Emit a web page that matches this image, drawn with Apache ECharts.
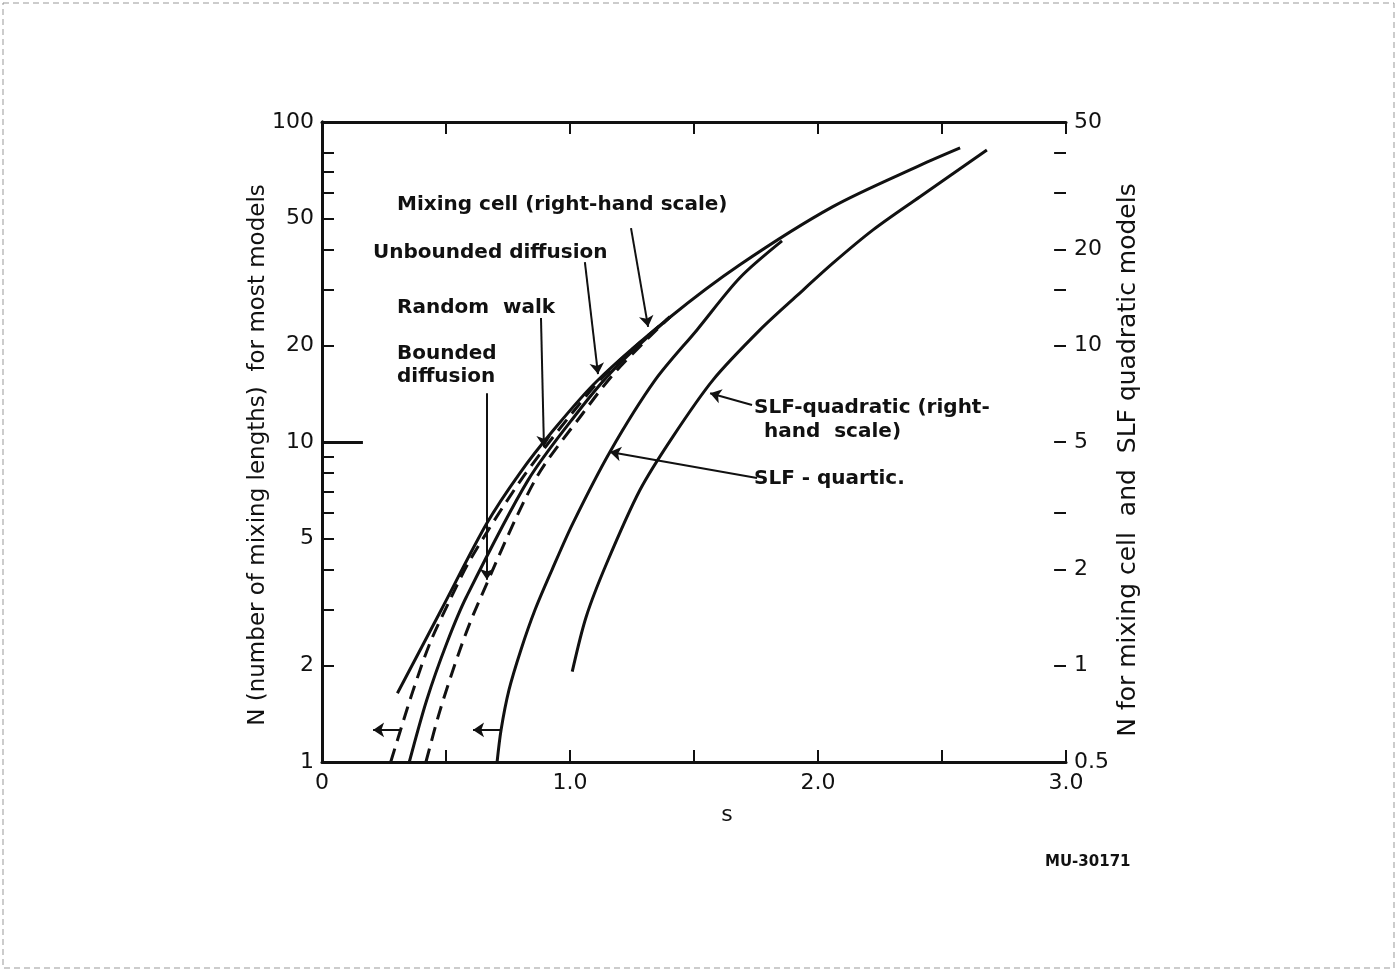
<!DOCTYPE html>
<html>
<head>
<meta charset="UTF-8">
<title>N vs s</title>
<script src="https://cdn.jsdelivr.net/npm/echarts@6/dist/echarts.min.js"></script>
<style>
  html, body { margin: 0; padding: 0; background: #fff; }
  #chart { width: 1398px; height: 972px; }
</style>
</head>
<body>
<div id="chart"></div>
<script>
// s values and N values
// left-hand scale curves
var unboundedS = [0.277, 0.321, 0.368, 0.435, 0.516, 0.597, 0.802, 1.008, 1.160, 1.403];
var unboundedN = [1.0, 1.29, 1.68, 2.35, 3.21, 4.28, 7.6, 12.3, 16.8, 24.6];

var randomWalkS = [0.352, 0.422, 0.503, 0.583, 0.831, 1.028, 1.175, 1.403];
var randomWalkN = [1.0, 1.56, 2.35, 3.29, 7.6, 12.3, 16.8, 24.6];

var boundedS = [0.419, 0.476, 0.556, 0.624, 0.859, 1.052, 1.190, 1.403];
var boundedN = [1.0, 1.45, 2.24, 3.06, 7.6, 12.3, 16.8, 24.6];

var quarticS = [0.706, 0.722, 0.754, 0.802, 0.859, 0.927, 1.012, 1.161, 1.343, 1.512, 1.685, 1.855];
var quarticN = [1.0, 1.26, 1.68, 2.24, 2.99, 3.98, 5.58, 9.31, 15.6, 22.4, 32.6, 42.5];

// right-hand scale curves
var mixingS = [0.304, 0.480, 0.664, 0.798, 0.931, 1.108, 1.403, 1.685, 2.060, 2.411, 2.573];
var mixingN = [0.82, 1.49, 2.78, 4.0, 5.42, 7.74, 12.27, 17.9, 27.2, 36.6, 41.5];

var quadraticS = [1.009, 1.065, 1.148, 1.282, 1.415, 1.577, 1.766, 1.914, 2.060, 2.222, 2.411, 2.681];
var quadraticN = [0.958, 1.42, 2.09, 3.54, 5.2, 7.82, 11.2, 14.3, 18.1, 23.0, 29.2, 40.9];

// ticks
var leftTicks = [1, 2, 3, 4, 5, 6, 7, 8, 9, 10, 20, 30, 40, 50, 60, 70, 80, 100];
var leftLabels = [1, 2, 5, 10, 20, 50, 100];
var rightTicks = [0.5, 1, 2, 3, 5, 10, 15, 20, 30, 40, 50];
var rightLabels = [0.5, 1, 2, 5, 10, 20, 50];
var xLabels = {0: '0', 1: '1.0', 2: '2.0', 3: '3.0'};

function pairs(xs, ys) {
    var out = [];
    for (var i = 0; i < xs.length; i++) out.push([xs[i], ys[i]]);
    return out;
}

var FONT = 'DejaVu Sans';
var INK = '#111';
var NOTE = 'bold 20px ' + FONT;

var lineStyleSolid = {color: INK, width: 3};
var lineStyleDash = {color: INK, width: 3, type: [14, 8]};

// annotation arrows, in data units of the axis the series uses
var arrowStyle = {color: INK, width: 2, type: 'solid'};
function arrow(x0, y0, x1, y1) {
    return [{coord: [x0, y0]}, {coord: [x1, y1]}];
}
function note(x, y, text) {
    return {type: 'text', x: x, y: y, style: {text: text, font: NOTE, fill: INK, verticalAlign: 'middle'}};
}

// right axis ticks: customValues ticks land on the left axis in this build,
// so they are drawn as short inward segments from s = 3.0
var rightTickMarks = rightTicks.map(function (v) { return arrow(3, v, 2.952, v); });

var chart = echarts.init(document.getElementById('chart'));
var option = {
    backgroundColor: '#fff',
    animation: false,
    grid: {left: 322, right: 332, top: 122, bottom: 210},
    xAxis: [{
        type: 'value', min: 0, max: 3, interval: 0.5,
        name: 's', nameLocation: 'middle', nameGap: 42,
        nameTextStyle: {fontFamily: FONT, fontSize: 22, color: INK, padding: [0, 0, 0, 66]},
        axisLine: {lineStyle: {color: INK, width: 3}},
        axisTick: {inside: true, length: 12, lineStyle: {color: INK, width: 2}},
        axisLabel: {
            fontFamily: FONT, fontSize: 22, color: INK, margin: 10,
            formatter: function (v) { return xLabels[v] !== undefined ? xLabels[v] : ''; }
        },
        splitLine: {show: false}
    }, {
        type: 'value', min: 0, max: 3, interval: 0.5, position: 'top',
        axisLine: {lineStyle: {color: INK, width: 3}},
        axisTick: {inside: true, length: 12, lineStyle: {color: INK, width: 2}},
        axisLabel: {show: false},
        splitLine: {show: false}
    }],
    yAxis: [{
        type: 'log', min: 1, max: 100, position: 'left',
        name: 'N (number of mixing lengths)  for most models',
        nameLocation: 'middle', nameGap: 52, nameRotate: 90, nameMoveOverlap: false,
        nameTextStyle: {fontFamily: FONT, fontSize: 23, color: INK, padding: [0, 26, 0, 0]},
        axisLine: {lineStyle: {color: INK, width: 3}},
        axisTick: {inside: true, length: 12, customValues: leftTicks, lineStyle: {color: INK, width: 2}},
        axisLabel: {fontFamily: FONT, fontSize: 22, color: INK, margin: 8, customValues: leftLabels},
        splitLine: {show: false}
    }, {
        type: 'log', min: 0.5, max: 50, position: 'right',
        name: 'N for mixing cell  and  SLF quadratic models',
        nameLocation: 'middle', nameGap: 50, nameRotate: 90, nameMoveOverlap: false,
        nameTextStyle: {fontFamily: FONT, fontSize: 25, color: INK, padding: [0, 36, 0, 0]},
        axisLine: {lineStyle: {color: INK, width: 3}},
        axisTick: {show: false},
        axisLabel: {fontFamily: FONT, fontSize: 22, color: INK, margin: 8, customValues: rightLabels},
        splitLine: {show: false}
    }],
    series: [{
        name: 'Mixing cell', type: 'line', yAxisIndex: 1, smooth: 0.3, showSymbol: false,
        lineStyle: lineStyleSolid, data: pairs(mixingS, mixingN),
        markLine: {
            silent: true, symbol: 'none', lineStyle: {color: INK, width: 2, type: 'solid'},
            label: {show: false}, data: rightTickMarks
        }
    }, {
        name: 'Unbounded diffusion', type: 'line', yAxisIndex: 0, smooth: 0.3, showSymbol: false,
        lineStyle: lineStyleDash, data: pairs(unboundedS, unboundedN)
    }, {
        name: 'Random walk', type: 'line', yAxisIndex: 0, smooth: 0.3, showSymbol: false,
        lineStyle: lineStyleSolid, data: pairs(randomWalkS, randomWalkN),
        markLine: {
            silent: true, symbol: ['none', 'arrow'], symbolSize: 11,
            lineStyle: arrowStyle, label: {show: false},
            data: [
                arrow(1.246, 46.6, 1.315, 22.9),   // mixing cell
                arrow(1.060, 36.5, 1.113, 16.3),   // unbounded diffusion
                arrow(0.883, 24.4, 0.895, 9.65),   // random walk
                arrow(0.665, 14.2, 0.665, 3.71),   // bounded diffusion
                arrow(1.734, 13.05, 1.565, 14.2),  // SLF-quadratic
                arrow(1.754, 7.72, 1.161, 9.3),    // SLF-quartic
                arrow(0.315, 1.26, 0.206, 1.26),   // left-hand scale marks
                arrow(0.718, 1.26, 0.609, 1.26)
            ]
        }
    }, {
        name: 'Bounded diffusion', type: 'line', yAxisIndex: 0, smooth: 0.3, showSymbol: false,
        lineStyle: lineStyleDash, data: pairs(boundedS, boundedN),
        markLine: {
            silent: true, symbol: 'none', lineStyle: {color: INK, width: 3, type: 'solid'},
            label: {show: false},
            data: [arrow(0, 10, 0.165, 10)]
        }
    }, {
        name: 'SLF-quartic', type: 'line', yAxisIndex: 0, smooth: 0.3, showSymbol: false,
        lineStyle: lineStyleSolid, data: pairs(quarticS, quarticN)
    }, {
        name: 'SLF-quadratic', type: 'line', yAxisIndex: 1, smooth: 0.3, showSymbol: false,
        lineStyle: lineStyleSolid, data: pairs(quadraticS, quadraticN)
    }],
    graphic: [
        note(397, 205, 'Mixing cell (right-hand scale)'),
        note(373, 253, 'Unbounded diffusion'),
        note(397, 308, 'Random  walk'),
        note(397, 354, 'Bounded'),
        note(397, 377, 'diffusion'),
        note(754, 408, 'SLF-quadratic (right-'),
        note(764, 432, 'hand  scale)'),
        note(754, 479, 'SLF - quartic.'),
        {type: 'text', x: 1045, y: 862, style: {text: 'MU-30171', font: 'bold 15px ' + FONT, fill: INK, verticalAlign: 'middle'}},
        // scanned page border
        {type: 'rect', shape: {x: 3, y: 3, width: 1391, height: 965},
         style: {fill: 'none', stroke: '#999', lineWidth: 1, lineDash: [6, 4]}}
    ]
};
chart.setOption(option);
</script>
</body>
</html>
